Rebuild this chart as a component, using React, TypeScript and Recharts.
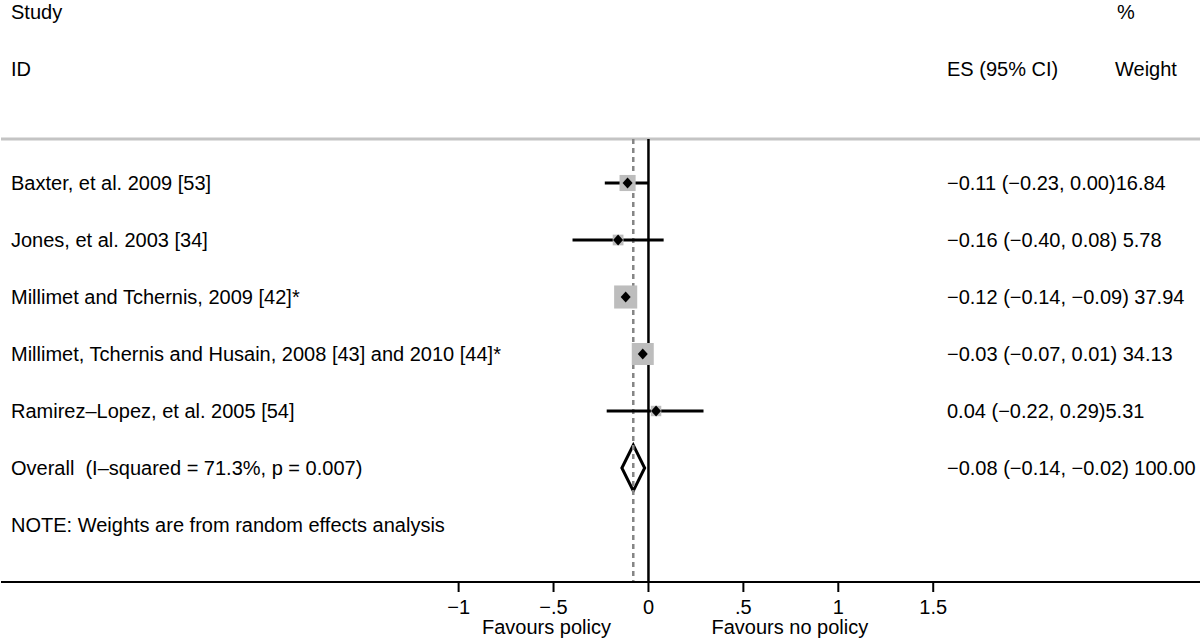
import { ComposedChart, Scatter, XAxis, YAxis, ZAxis, ErrorBar, ReferenceLine, ReferenceArea } from 'recharts'

const studies = [
  'Baxter, et al. 2009 [53]',
  'Jones, et al. 2003 [34]',
  'Millimet and Tchernis, 2009 [42]*',
  'Millimet, Tchernis and Husain, 2008 [43] and 2010 [44]*',
  'Ramirez–Lopez, et al. 2005 [54]',
]
const es = [-0.11, -0.16, -0.12, -0.03, 0.04]
const ciLow = [-0.23, -0.4, -0.14, -0.07, -0.22]
const ciHigh = [0.0, 0.08, -0.09, 0.01, 0.29]
const weights = [16.84, 5.78, 37.94, 34.13, 5.31]
const esLabels = [
  '−0.11 (−0.23, 0.00)16.84',
  '−0.16 (−0.40, 0.08) 5.78',
  '−0.12 (−0.14, −0.09) 37.94',
  '−0.03 (−0.07, 0.01) 34.13',
  '0.04 (−0.22, 0.29)5.31',
]

const overallLabel = 'Overall  (I–squared = 71.3%, p = 0.007)'
const overallEs = -0.08
const overallLow = -0.14
const overallHigh = -0.02
const overallText = '−0.08 (−0.14, −0.02) 100.00'
const noteText = 'NOTE: Weights are from random effects analysis'

const xTicks = [-1, -0.5, 0, 0.5, 1, 1.5]
const xTickLabels = ['−1', '−.5', '0', '.5', '1', '1.5']
const favourTicks = [-0.537, 0.745]
const favourLabels = ['Favours policy', 'Favours no policy']

// row layout: studies 0..4, overall 5, note 6, headers at -3 / -2
const OVERALL_ROW = studies.length
const NOTE_ROW = studies.length + 1
const DIVIDER_ROW = -0.77
const X_DOMAIN = [-648 / 190, 552 / 190]
const Y_DOMAIN = [-183 / 57, 7]

const FONT = "'Liberation Sans', Arial, Helvetica, sans-serif"

const rows = studies.map((s, i) => ({
  x: es[i],
  y: i,
  w: weights[i],
  err: [es[i] - ciLow[i], ciHigh[i] - es[i]],
}))

const favourPoints = favourTicks.map(x => ({ x, y: 0 }))

function RowTick({ y, payload }: any) {
  const v = payload.value
  let left = ''
  let right: { x: number; t: string }[] = []
  if (v === -3) {
    left = 'Study'
    right = [{ x: 1117, t: '%' }]
  } else if (v === -2) {
    left = 'ID'
    right = [
      { x: 947, t: 'ES (95% CI)' },
      { x: 1115, t: 'Weight' },
    ]
  } else if (v === OVERALL_ROW) {
    left = overallLabel
    right = [{ x: 947, t: overallText }]
  } else if (v === NOTE_ROW) {
    left = noteText
  } else if (v >= 0 && v < studies.length) {
    left = studies[v]
    right = [{ x: 947, t: esLabels[v] }]
  }
  return (
    <g fontFamily={FONT} fontSize={20} fill="#000">
      <text x={11} y={y} dy="0.35em" textAnchor="start" style={{ whiteSpace: 'pre' }}>
        {left}
      </text>
      {right.map(r => (
        <text key={r.t} x={r.x} y={y} dy="0.35em" textAnchor="start">
          {r.t}
        </text>
      ))}
    </g>
  )
}

function XTick({ x, y, payload }: any) {
  const i = xTicks.indexOf(payload.value)
  return (
    <text x={x} y={y} dy="0.71em" textAnchor="middle" fontFamily={FONT} fontSize={20} fill="#000">
      {xTickLabels[i] ?? ''}
    </text>
  )
}

function FavourTick({ x, y, payload }: any) {
  const i = favourTicks.indexOf(payload.value)
  return (
    <text x={x} y={y} dy="0.71em" textAnchor="middle" fontFamily={FONT} fontSize={20} fill="#000">
      {favourLabels[i] ?? ''}
    </text>
  )
}

function MarkerDot({ cx, cy }: any) {
  return <polygon points={`${cx - 5},${cy} ${cx},${cy - 5.5} ${cx + 5},${cy} ${cx},${cy + 5.5}`} fill="#000" />
}

function OverallDiamond({ x, y, width, height }: any) {
  const mid = x + (width * (overallEs - overallLow)) / (overallHigh - overallLow)
  const cy = y + height / 2
  return (
    <polygon
      points={`${x},${cy} ${mid},${y} ${x + width},${cy} ${mid},${y + height}`}
      fill="#fff"
      stroke="#000"
      strokeWidth={3}
    />
  )
}

export default function App() {
  return (
    <div style={{ position: 'absolute', left: 0, top: 0, background: '#fff' }}>
      <ComposedChart width={1200} height={640} margin={{ top: 0, right: 0, bottom: 0, left: 0 }}>
        <XAxis
          xAxisId={0}
          type="number"
          dataKey="x"
          domain={X_DOMAIN}
          ticks={xTicks}
          allowDataOverflow
          height={30}
          tickSize={10}
          tickMargin={8}
          axisLine={{ stroke: '#000', strokeWidth: 2 }}
          tickLine={{ stroke: '#000', strokeWidth: 2 }}
          tick={<XTick />}
        />
        <XAxis
          xAxisId="fav"
          type="number"
          dataKey="x"
          domain={X_DOMAIN}
          ticks={favourTicks}
          allowDataOverflow
          height={28}
          tickSize={0}
          tickMargin={8}
          axisLine={false}
          tickLine={false}
          tick={<FavourTick />}
        />
        <YAxis
          type="number"
          dataKey="y"
          domain={Y_DOMAIN}
          reversed
          allowDataOverflow
          width={1}
          ticks={[-3, -2, 0, 1, 2, 3, 4, OVERALL_ROW, NOTE_ROW]}
          interval={0}
          axisLine={false}
          tickLine={false}
          tick={<RowTick />}
        />
        <ZAxis type="number" dataKey="w" domain={[0, 40]} range={[40, 560]} />

        <ReferenceLine y={DIVIDER_ROW} stroke="#c4c4c4" strokeWidth={3} />
        <ReferenceLine
          segment={[
            { x: overallEs, y: DIVIDER_ROW },
            { x: overallEs, y: Y_DOMAIN[1] },
          ]}
          stroke="#858585"
          strokeWidth={2.5}
          strokeDasharray="5 4"
        />

        <Scatter data={rows} shape="square" fill="#bdbdbd" isAnimationActive={false} />

        <ReferenceLine
          segment={[
            { x: 0, y: DIVIDER_ROW },
            { x: 0, y: Y_DOMAIN[1] },
          ]}
          stroke="#000"
          strokeWidth={2.5}
        />

        <Scatter data={rows} shape={() => <g />} isAnimationActive={false}>
          <ErrorBar dataKey="err" direction="x" width={0} stroke="#000" strokeWidth={3} isAnimationActive={false} />
        </Scatter>
        <Scatter data={rows} shape={<MarkerDot />} isAnimationActive={false} />
        <Scatter xAxisId="fav" data={favourPoints} shape={() => <g />} isAnimationActive={false} />

        <ReferenceArea
          x1={overallLow}
          x2={overallHigh}
          y1={OVERALL_ROW - 0.4}
          y2={OVERALL_ROW + 0.4}
          shape={<OverallDiamond />}
        />
      </ComposedChart>
    </div>
  )
}
